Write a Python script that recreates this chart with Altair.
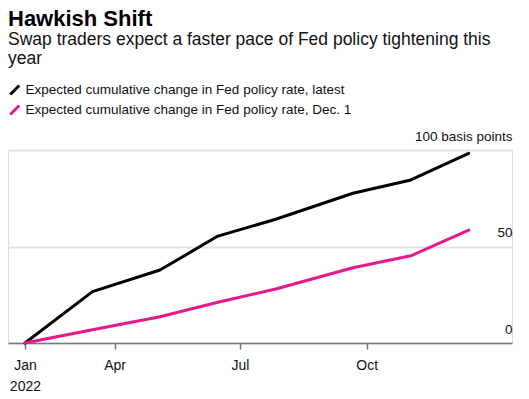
import altair as alt
import pandas as pd

FONT = "Liberation Sans"

meeting_dates = ["2022-01-26", "2022-03-16", "2022-05-04", "2022-06-15",
                 "2022-07-27", "2022-09-21", "2022-11-02", "2022-12-14"]
latest = [0, 26.6, 37.8, 55.4, 64.1, 77.6, 84.5, 98.3]
dec1 = [0, 6.9, 13.6, 21.1, 28.0, 39.0, 45.2, 58.5]
series_names = ["Expected cumulative change in Fed policy rate, latest",
                "Expected cumulative change in Fed policy rate, Dec. 1"]
series_colors = ["#000000", "#e8178c"]
y_ticks = [0, 50, 100]

rows = []
for name, vals in zip(series_names, [latest, dec1]):
    for d, v in zip(meeting_dates, vals):
        rows.append({"date": d, "value": v, "series": name})
df = pd.DataFrame(rows)

x_ticks = [
    alt.DateTime(year=2022, month=1, date=26, utc=True),
    alt.DateTime(year=2022, month=4, date=1, utc=True),
    alt.DateTime(year=2022, month=7, date=1, utc=True),
    alt.DateTime(year=2022, month=10, date=1, utc=True),
]

chart = alt.Chart(df).mark_line(strokeWidth=3, strokeCap="round", strokeJoin="round").encode(
    x=alt.X(
        "date:T",
        scale=alt.Scale(
            type="utc",
            domain=[alt.DateTime(year=2022, month=1, date=13, hours=17, utc=True),
                    alt.DateTime(year=2023, month=1, date=14, hours=10, utc=True)],
        ),
        axis=alt.Axis(
            values=x_ticks, title=None, grid=False,
            labelExpr="utcFormat(datum.value, '%m') == '01' ? ['Jan', '2022'] : utcFormat(datum.value, '%b')",
            domainColor="#777777", domainWidth=1.5, tickColor="#777777", tickWidth=1.5, tickSize=6,
            labelFont=FONT, labelFontSize=14, labelColor="#111111", labelPadding=9, labelLineHeight=21,
            labelFlush=False, labelOverlap=False, labelBound=False,
        ),
    ),
    y=alt.Y(
        "value:Q",
        scale=alt.Scale(domain=[0, 100], nice=False),
        axis=alt.Axis(
            orient="right", values=y_ticks, title=None, domain=False, ticks=False,
            labelAlign="right", labelPadding=0, labelBaseline="middle", labelOffset=-14,
            labelExpr="datum.value == 100 ? '100 basis points' : datum.label",
            gridColor="#e3e3e3", gridWidth=2,
            labelFont=FONT, labelFontSize=13.5, labelColor="#111111",
            labelBound=False, labelOverlap=False, labelFlush=False,
        ),
    ),
    color=alt.Color(
        "series:N",
        scale=alt.Scale(domain=series_names, range=series_colors),
        legend=alt.Legend(
            title=None, orient="none", legendX=0, legendY=-67, direction="vertical",
            symbolType="M-1,1L1,-1", symbolSize=81, symbolStrokeWidth=3,
            labelFont=FONT, labelFontSize=13.5, labelColor="#111111", labelOffset=4,
            rowPadding=6, clipHeight=14, padding=0, labelLimit=0,
        ),
    ),
).properties(
    width=504,
    height=193,
    autosize=alt.AutoSizeParams(type="none"),
    padding={"left": 0, "top": 142, "right": 9, "bottom": 55},
    title=alt.TitleParams(
        text="Hawkish Shift",
        subtitle=["Swap traders expect a faster pace of Fed policy tightening this", "year"],
        anchor="start", frame="group",
        font=FONT, fontSize=22, fontWeight="bold", color="#000000",
        subtitleFont=FONT, subtitleFontSize=17.5, subtitleColor="#111111",
        subtitleLineHeight=19, subtitlePadding=0, offset=15,
    ),
).configure_view(stroke=None).configure(background="white")

chart.save("out.html", embed_options={"renderer": "svg", "actions": False})
